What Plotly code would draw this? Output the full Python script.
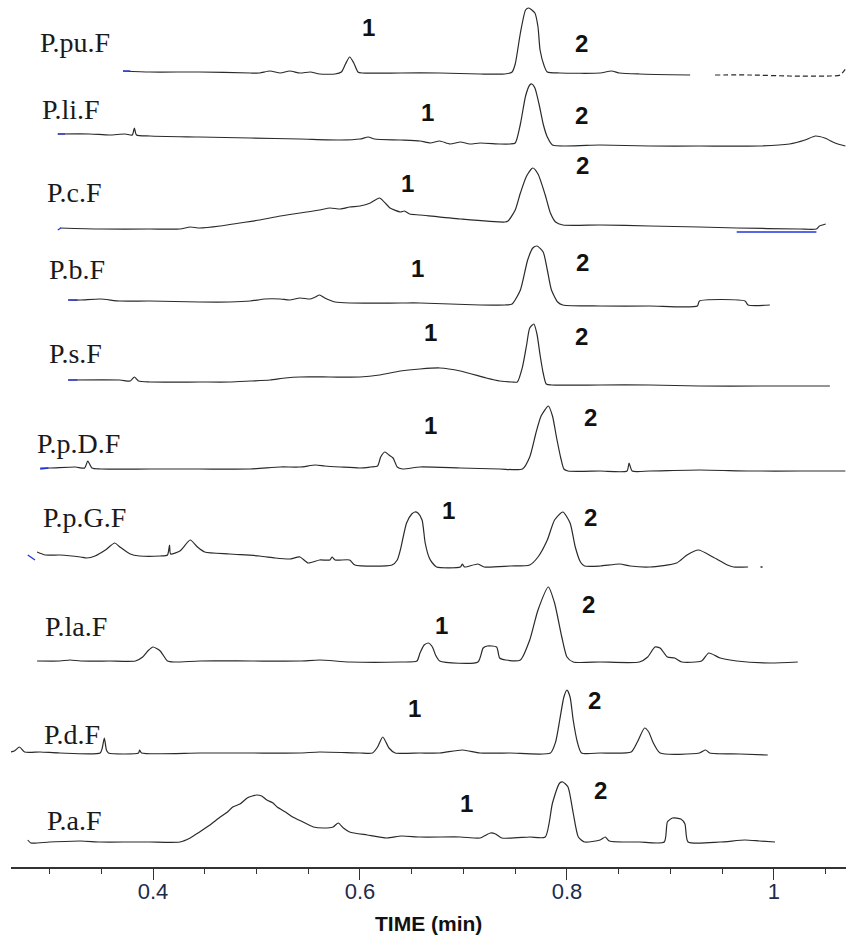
import plotly.graph_objects as go

# Sample names, top to bottom, and the vertical offset that stacks each trace
SAMPLES = ["P.pu.F", "P.li.F", "P.c.F", "P.b.F", "P.s.F",
           "P.p.D.F", "P.p.G.F", "P.la.F", "P.d.F", "P.a.F"]
OFFSETS = [795, 733, 639, 567, 487, 399, 312, 206, 115, 25]

# Retention time (min) and detector response for every chromatogram
T_PU = [0.371, 0.397, 0.445, 0.494, 0.503, 0.513, 0.523, 0.532, 0.542, 0.552, 0.561, 0.576,
        0.582, 0.586, 0.590, 0.594, 0.598, 0.602, 0.639, 0.677, 0.716, 0.740,
        0.747, 0.750, 0.755, 0.760, 0.763, 0.769, 0.772, 0.774, 0.778, 0.781,
        0.793, 0.832, 0.843, 0.851, 0.870, 0.919]
S_PU = [1, 0, 0, -1, -1, 1, -1, 1, -1, 0, -2, -2,
        0, 8, 15, 9, 0, -1, -1, -1, -2, -2,
        0, 8, 39, 62, 64, 59, 45, 22, 6, 0,
        -1, -1, 1, -1, -2, -3]
T_PU_TAIL = [0.943, 0.977, 1.015, 1.054, 1.064, 1.069]
S_PU_TAIL = [-3, -3, -4, -4, -3, 3]

T_LI = [0.308, 0.339, 0.358, 0.373, 0.380, 0.382, 0.384, 0.397, 0.445, 0.494, 0.542, 0.581,
        0.600, 0.608, 0.614, 0.639, 0.658, 0.668, 0.677, 0.687, 0.697, 0.706, 0.716, 0.735,
        0.745, 0.750, 0.755, 0.760, 0.764, 0.766, 0.769, 0.773, 0.777, 0.781, 0.786,
        0.832, 0.880, 0.928, 0.986, 1.015, 1.030, 1.040, 1.049, 1.059, 1.069]
S_LI = [0, 0, -1, 0, -1, 6, -1, -2, -3, -4, -5, -6,
        -5, -3, -5, -6, -7, -9, -7, -10, -8, -10, -9, -10,
        -10, -9, 10, 38, 49, 50, 46, 30, 10, -3, -11,
        -11, -12, -12, -12, -10, -6, -2, -4, -9, -12]

T_C = [0.310, 0.349, 0.397, 0.426, 0.436, 0.445, 0.465, 0.484, 0.503, 0.523, 0.542, 0.561,
       0.571, 0.581, 0.590, 0.600, 0.610, 0.619, 0.629, 0.639, 0.643, 0.648, 0.658, 0.697,
       0.740, 0.743, 0.750, 0.755, 0.761, 0.767, 0.772, 0.779, 0.784, 0.789, 0.796,
       0.832, 0.880, 0.928, 0.964, 1.025, 1.041, 1.044, 1.050]
S_C = [0, -1, -1, -1, 1, 0, 2, 5, 8, 12, 15, 18,
       20, 19, 21, 22, 25, 30, 20, 16, 17, 14, 13, 9,
       6, 7, 18, 35, 52, 60, 54, 33, 15, 6, 3,
       3, 2, 1, 0, -1, -1, 2, 4]

T_B = [0.318, 0.330, 0.349, 0.368, 0.397, 0.445, 0.474, 0.494, 0.508, 0.523, 0.532, 0.542,
       0.552, 0.557, 0.561, 0.566, 0.576, 0.590, 0.639, 0.658, 0.716, 0.740,
       0.747, 0.755, 0.762, 0.767, 0.771, 0.777, 0.781, 0.785, 0.791, 0.796,
       0.832, 0.880, 0.926, 0.928, 0.972, 0.975, 0.996]
S_B = [0, 0, 1, -1, -1, -2, -2, -1, 1, 1, 0, 2,
       1, 3, 5, 2, -2, -3, -3, -3, -5, -5,
       -4, 10, 40, 52, 54, 48, 30, 10, -2, -5,
       -6, -6, -6, -1, -1, -5, -5]

T_S = [0.318, 0.368, 0.378, 0.382, 0.386, 0.397, 0.445, 0.474, 0.494, 0.513, 0.528, 0.542,
       0.571, 0.600, 0.619, 0.639, 0.658, 0.677, 0.697, 0.722, 0.735, 0.747,
       0.752, 0.757, 0.761, 0.764, 0.768, 0.771, 0.774, 0.777, 0.780, 0.785,
       0.832, 0.880, 0.928, 0.986, 1.054]
S_S = [0, 0, -1, 3, -1, -2, -2, -2, -1, 0, 2, 3,
       3, 3, 5, 9, 11, 12, 9, 2, -1, -2,
       -2, 13, 35, 52, 56, 46, 25, 7, -4, -5,
       -5, -5, -6, -6, -6]

T_PD = [0.291, 0.301, 0.325, 0.334, 0.337, 0.341, 0.349, 0.397, 0.445, 0.494, 0.523, 0.542,
        0.557, 0.566, 0.581, 0.600, 0.610, 0.617, 0.620, 0.624, 0.628, 0.632, 0.636, 0.641,
        0.658, 0.697, 0.735, 0.757, 0.764, 0.770, 0.775, 0.782, 0.786, 0.790, 0.794, 0.797,
        0.801, 0.832, 0.858, 0.860, 0.863, 0.880, 0.928, 0.977, 1.025, 1.069]
S_PD = [0, 0, 1, 0, 7, 0, -1, -1, -1, -1, 1, 1,
        3, 2, 1, 0, 1, 2, 11, 16, 13, 10, 1, -1,
        1, 0, -1, -1, 11, 35, 52, 62, 52, 30, 10, -1,
        -3, -3, -3, 5, -3, -3, -2, -3, -3, -3]

T_PG = [0.288, 0.296, 0.310, 0.330, 0.336, 0.344, 0.354, 0.363, 0.368, 0.378, 0.387, 0.407,
        0.414, 0.416, 0.417, 0.426, 0.436, 0.443, 0.450, 0.474, 0.503, 0.518, 0.532, 0.542,
        0.550, 0.561, 0.571, 0.573, 0.576, 0.590, 0.595, 0.631,
        0.636, 0.639, 0.645, 0.650, 0.653, 0.656, 0.660, 0.663, 0.667, 0.670, 0.674,
        0.697, 0.699, 0.701, 0.714, 0.720, 0.745,
        0.764, 0.772, 0.781, 0.788, 0.796, 0.803, 0.808, 0.813, 0.817,
        0.832, 0.851, 0.861, 0.880, 0.906, 0.916, 0.927, 0.941, 0.955, 0.961, 0.975]
S_PG = [3, 0, 0, -2, -3, -1, 5, 12, 8, 1, -1, -1,
        0, 10, 1, 4, 15, 8, 3, 1, -1, -3, -4, -2,
        -8, -5, -5, -2, -5, -5, -10, -10,
        -5, 5, 32, 41, 43, 42, 35, 12, -3, -8, -12,
        -12, -9, -12, -9, -12, -11,
        -10, -2, 15, 35, 43, 32, 8, -7, -11,
        -11, -9, -11, -12, -8, 0, 5, -2, -10, -12, -12]
T_PG_DOT = [0.987, 0.989]
S_PG_DOT = [-12, -12]

T_LA = [0.288, 0.310, 0.320, 0.330, 0.358, 0.383, 0.390, 0.395, 0.400, 0.407, 0.414, 0.421,
        0.445, 0.494, 0.542, 0.561, 0.590, 0.639,
        0.655, 0.658, 0.662, 0.666, 0.670, 0.673, 0.677,
        0.714, 0.719, 0.723, 0.732, 0.735, 0.741,
        0.755, 0.764, 0.772, 0.782, 0.788, 0.795, 0.800, 0.806,
        0.832, 0.870, 0.878, 0.885, 0.890, 0.897, 0.904, 0.911,
        0.930, 0.937, 0.948, 0.964, 0.996, 1.023]
S_LA = [0, 0, 1, 0, 0, 0, 4, 10, 14, 10, 0, -1,
        0, 0, 0, 1, -1, -1,
        0, 8, 16, 18, 14, 6, 0,
        -1, 13, 15, 14, 3, 1,
        1, 21, 51, 74, 58, 24, 4, -1,
        -1, -1, 4, 14, 13, 4, 3, -1,
        0, 8, 3, 0, -2, -1]

T_D = [0.262, 0.266, 0.271, 0.276, 0.291, 0.310, 0.349, 0.351, 0.353, 0.355, 0.357,
       0.386, 0.387, 0.389, 0.445, 0.494, 0.542, 0.561, 0.600,
       0.612, 0.617, 0.622, 0.628, 0.634, 0.658, 0.677, 0.699, 0.716, 0.745,
       0.784, 0.789, 0.793, 0.797, 0.800, 0.803, 0.806, 0.810, 0.814,
       0.832, 0.862, 0.868, 0.875, 0.879, 0.883, 0.890,
       0.928, 0.934, 0.938, 0.967, 0.994]
S_D = [0, 1, 5, 0, 0, -1, -1, 4, 14, 2, -1,
       -1, 2, -1, -1, -1, -1, 0, -1,
       -1, 5, 15, 4, -1, -1, -1, 2, -1, -1,
       -1, 10, 32, 55, 62, 55, 32, 10, -1,
       -1, 0, 10, 24, 20, 10, -1,
       -1, 2, -1, -2, -3]

T_A = [0.279, 0.282, 0.300, 0.330, 0.349, 0.378, 0.397, 0.426, 0.436, 0.445, 0.455, 0.465,
       0.472, 0.477, 0.484, 0.491, 0.496, 0.500, 0.505, 0.510, 0.516, 0.520, 0.528, 0.535,
       0.545, 0.555, 0.565, 0.574, 0.579, 0.584, 0.590, 0.607, 0.626, 0.640, 0.658,
       0.697, 0.716, 0.726, 0.731, 0.737, 0.764,
       0.779, 0.786, 0.793, 0.796, 0.801, 0.806, 0.811, 0.817,
       0.832, 0.837, 0.841, 0.870, 0.894, 0.897, 0.902, 0.910, 0.914, 0.917,
       0.948, 0.972, 0.986, 1.001]
S_A = [2, -1, 0, 1, 0, 0, 0, 0, 4, 10, 17, 25,
       30, 35, 38, 44, 46, 47, 46, 42, 39, 35, 30, 25,
       20, 15, 14, 15, 19, 14, 10, 7, 4, 6, 5,
       5, 4, 9, 8, 4, 5,
       5, 39, 59, 60, 55, 29, 5, 0,
       2, 5, 1, 0, 0, 20, 24, 23, 18, 0,
       0, 2, 1, 0]

# Short blue detector-start marks at the head of some runs
BLUE_MARKS = [
    (0, [0.371, 0.378], [1, 1]),
    (1, [0.308, 0.315], [0, 0]),
    (2, [0.308, 0.311], [-2, 0]),
    (2, [0.964, 1.041], [-4, -4]),
    (3, [0.318, 0.327], [0, 0]),
    (4, [0.318, 0.327], [0, 0]),
    (5, [0.291, 0.299], [-1, 0]),
    (6, [0.279, 0.286], [0, -5]),
]

RUNS = [(T_PU, S_PU), (T_LI, S_LI), (T_C, S_C), (T_B, S_B), (T_S, S_S),
        (T_PD, S_PD), (T_PG, S_PG), (T_LA, S_LA), (T_D, S_D), (T_A, S_A)]

# Sample-name label placement (left edge time, height) and peak number placement
NAME_POS = [(0.289, 825), (0.291, 758), (0.296, 675), (0.298, 598), (0.298, 514),
            (0.286, 424), (0.292, 350), (0.294, 241), (0.293, 133), (0.296, 47)]
PEAK_TAGS = [("1", 0.608, 840), ("2", 0.814, 824),
             ("1", 0.665, 755), ("2", 0.814, 752),
             ("1", 0.646, 684), ("2", 0.815, 702),
             ("1", 0.656, 599), ("2", 0.815, 605),
             ("1", 0.668, 535), ("2", 0.814, 531),
             ("1", 0.668, 442), ("2", 0.823, 450),
             ("1", 0.686, 357), ("2", 0.823, 350),
             ("1", 0.679, 242), ("2", 0.821, 263),
             ("1", 0.653, 159), ("2", 0.827, 167),
             ("1", 0.703, 64), ("2", 0.832, 77)]

LINE_COLOR = "#2a2a2a"
BLUE = "#2233dd"

fig = go.Figure()

def add_line(t, s, off, color=LINE_COLOR, dash="solid", width=1.2):
    fig.add_trace(go.Scatter(
        x=t, y=[off + v for v in s], mode="lines",
        line=dict(color=color, width=width, dash=dash, shape="spline", smoothing=0.6),
        hoverinfo="skip", showlegend=False))

for (t, s), off in zip(RUNS, OFFSETS):
    add_line(t, s, off)

add_line(T_PU_TAIL, S_PU_TAIL, OFFSETS[0], dash="5px,3px")
add_line(T_PG_DOT, S_PG_DOT, OFFSETS[6], width=1.5)

for idx, t, s in BLUE_MARKS:
    add_line(t, s, OFFSETS[idx], color=BLUE, width=1.3)

annotations = []
for name, (x, y) in zip(SAMPLES, NAME_POS):
    annotations.append(dict(x=x, y=y, text=name, showarrow=False, xanchor="left",
                            yanchor="middle",
                            font=dict(family="Liberation Serif", size=28, color="#1a1a1a")))
for txt, x, y in PEAK_TAGS:
    annotations.append(dict(x=x, y=y, text="<b>%s</b>" % txt, showarrow=False,
                            xanchor="center", yanchor="middle",
                            font=dict(family="Liberation Sans", size=24, color="#111111")))
annotations.append(dict(x=0.666, y=-0.0646, xref="x", yref="paper",
                        text="<b>TIME (min)</b>", showarrow=False,
                        xanchor="center", yanchor="middle",
                        font=dict(family="Liberation Sans", size=21, color="#111111")))

fig.update_layout(
    width=846, height=935,
    margin=dict(l=11, r=0, t=0, b=68),
    paper_bgcolor="white", plot_bgcolor="white",
    showlegend=False,
    annotations=annotations,
    xaxis=dict(
        range=[0.2628, 1.0696],
        showgrid=False, zeroline=False,
        showline=True, linecolor="#333333", linewidth=1.5,
        ticks="outside", ticklen=11, tickwidth=1.3, tickcolor="#333333",
        tick0=0, dtick=0.2,
        ticklabelstandoff=-7,
        tickfont=dict(family="Liberation Sans", size=22, color="#1c2b4c"),
        minor=dict(ticks="outside", ticklen=5, tickwidth=1.3, tickcolor="#333333",
                   dtick=0.05, tick0=0, showgrid=False),
    ),
    yaxis=dict(range=[0, 867], visible=False, showgrid=False, zeroline=False),
)

fig.write_html("out.html")
